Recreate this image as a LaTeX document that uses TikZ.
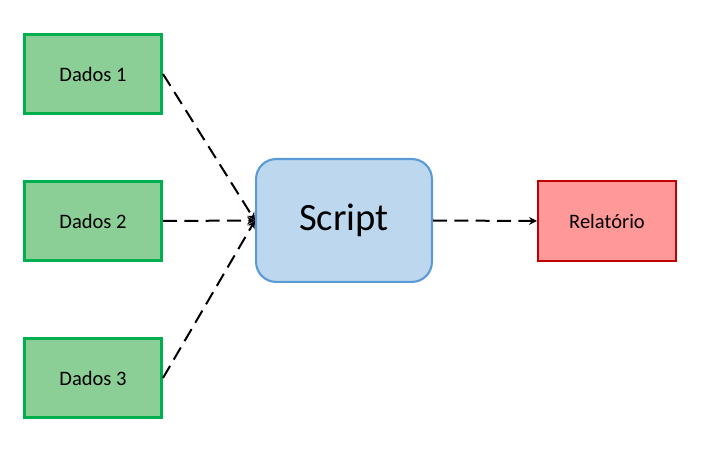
\documentclass[tikz,border=0pt]{standalone}
\usepackage{fontspec}
\setmainfont{Carlito}
\usetikzlibrary{arrows.meta}
\definecolor{gfill}{HTML}{8BCE96}
\definecolor{gline}{HTML}{00B050}
\definecolor{bfill}{HTML}{BDD7EE}
\definecolor{bline}{HTML}{5B9BD5}
\definecolor{rfill}{HTML}{FF9999}
\definecolor{rline}{HTML}{C00000}
\begin{document}
\begin{tikzpicture}[x=0.75pt,y=-0.75pt,
  databox/.style={draw=gline,fill=gfill,line width=2.2pt,minimum width=105pt-2.2pt,minimum height=61.5pt-2.2pt,inner sep=0pt,font=\fontsize{15.4}{18}\selectfont},
  scriptbox/.style={draw=bline,fill=bfill,line width=1.6pt,rounded corners=15pt,minimum width=133.5pt-1.6pt,minimum height=93.75pt-1.6pt,inner sep=0pt,font=\fontsize{29}{34}\selectfont},
  reportbox/.style={draw=rline,fill=rfill,line width=1.6pt,minimum width=105pt-1.6pt,minimum height=61.5pt-1.6pt,inner sep=0pt,font=\fontsize{15.4}{18}\selectfont},
  conn/.style={line width=1.5pt,dash pattern=on 10.5pt off 5.5pt,-{Stealth[length=6pt,width=6pt,inset=2pt]}}]
\useasboundingbox (0,0) rectangle (708,449);
\node[databox] (d1) at (93,74) {Dados 1};
\node[databox] (d2) at (93,221) {Dados 2};
\node[databox] (d3) at (93,378) {Dados 3};
\node[scriptbox] (s) at (344,220.5) {Script};
\node[reportbox] (r) at (607,221) {Relatório};
\draw[conn] (d1.east) -- (s.west);
\draw[conn] (d2.east) -- (s.west);
\draw[conn] (d3.east) -- (s.west);
\draw[conn] (s.east) -- (r.west);
\end{tikzpicture}
\end{document}
